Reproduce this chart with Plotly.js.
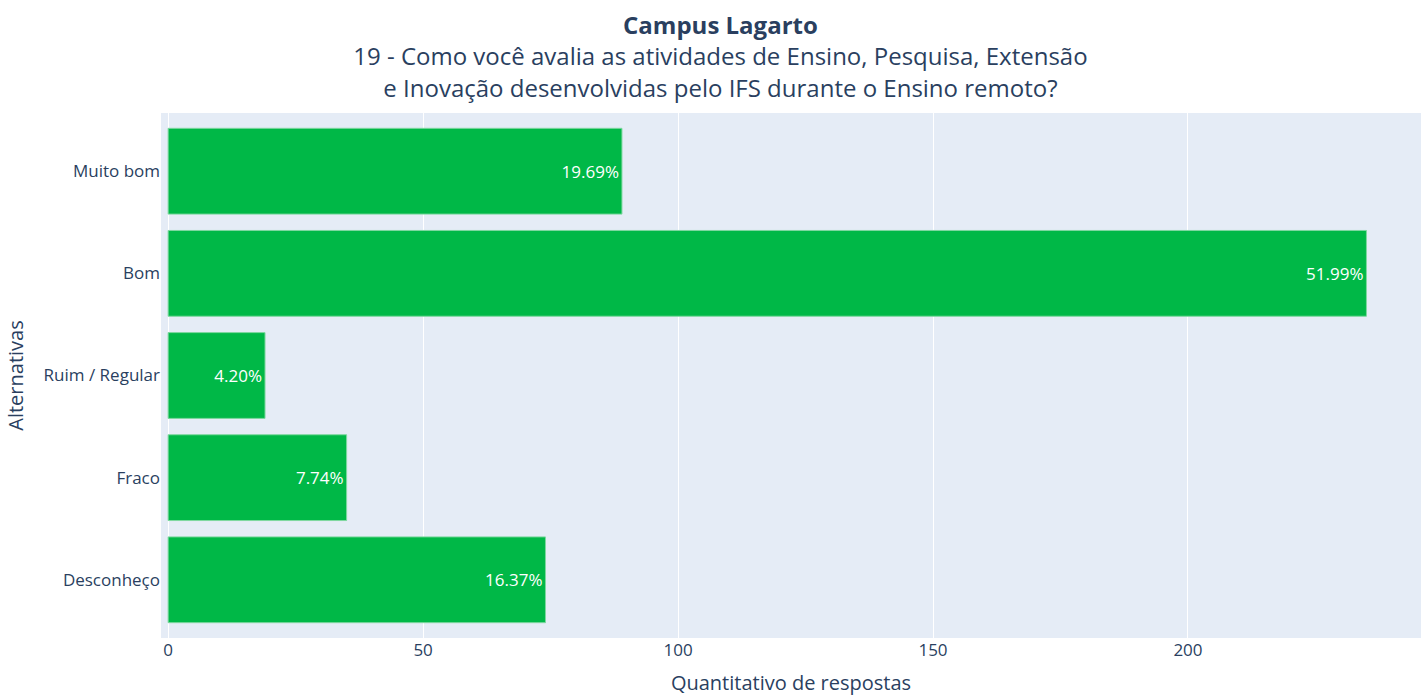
<!DOCTYPE html>
<html><head><meta charset="utf-8">
<script src="https://cdn.plot.ly/plotly-3.0.1.min.js"></script>
<style>html,body{margin:0;padding:0;}</style>
</head><body>
<div id="chart" style="width:1421px;height:696px;"></div>
<script>
const categories = ["Muito bom", "Bom", "Ruim / Regular", "Fraco", "Desconheço"];
const counts = [89, 235, 19, 35, 74];
const percentLabels = ["19.69%", "51.99%", "4.20%", "7.74%", "16.37%"];

const trace = {
  type: "bar",
  orientation: "h",
  x: counts,
  y: categories,
  text: percentLabels,
  textposition: "inside",
  insidetextanchor: "end",
  textfont: {color: "#ffffff", size: 17, family: "Open Sans"},
  marker: {color: "#00b847", line: {color: "#7fd8a0", width: 1}},
  hoverinfo: "x+y"
};

const layout = {
  width: 1421, height: 696,
  margin: {l: 161, r: 0, t: 113, b: 58},
  font: {family: "Open Sans", color: "#2a3f5f"},
  paper_bgcolor: "#ffffff",
  plot_bgcolor: "#e5ecf6",
  bargap: 0.16,
  showlegend: false,
  title: {
    text: "<b>Campus Lagarto</b><br>19 - Como você avalia as atividades de Ensino, Pesquisa, Extensão<br>e Inovação desenvolvidas pelo IFS durante o Ensino remoto?",
    x: 0.507, xanchor: "center",
    yref: "container",
    y: 0.951, yanchor: "top",
    font: {size: 24, color: "#2a3f5f", family: "Open Sans"}
  },
  xaxis: {
    range: [-1.4, 245.7],
    tickvals: [0, 50, 100, 150, 200],
    gridcolor: "#ffffff",
    zeroline: false,
    tickfont: {size: 17},
    title: {text: "Quantitativo de respostas", font: {size: 20}, standoff: 24}
  },
  yaxis: {
    categoryorder: "array",
    categoryarray: categories,
    autorange: false,
    range: [4.57, -0.57],
    tickfont: {size: 17},
    ticks: "",
    ticklen: 0,
    title: {text: "Alternativas", font: {size: 20}, standoff: 14}
  }
};

Plotly.newPlot("chart", [trace], layout, {displayModeBar: false});
</script>
</body></html>
